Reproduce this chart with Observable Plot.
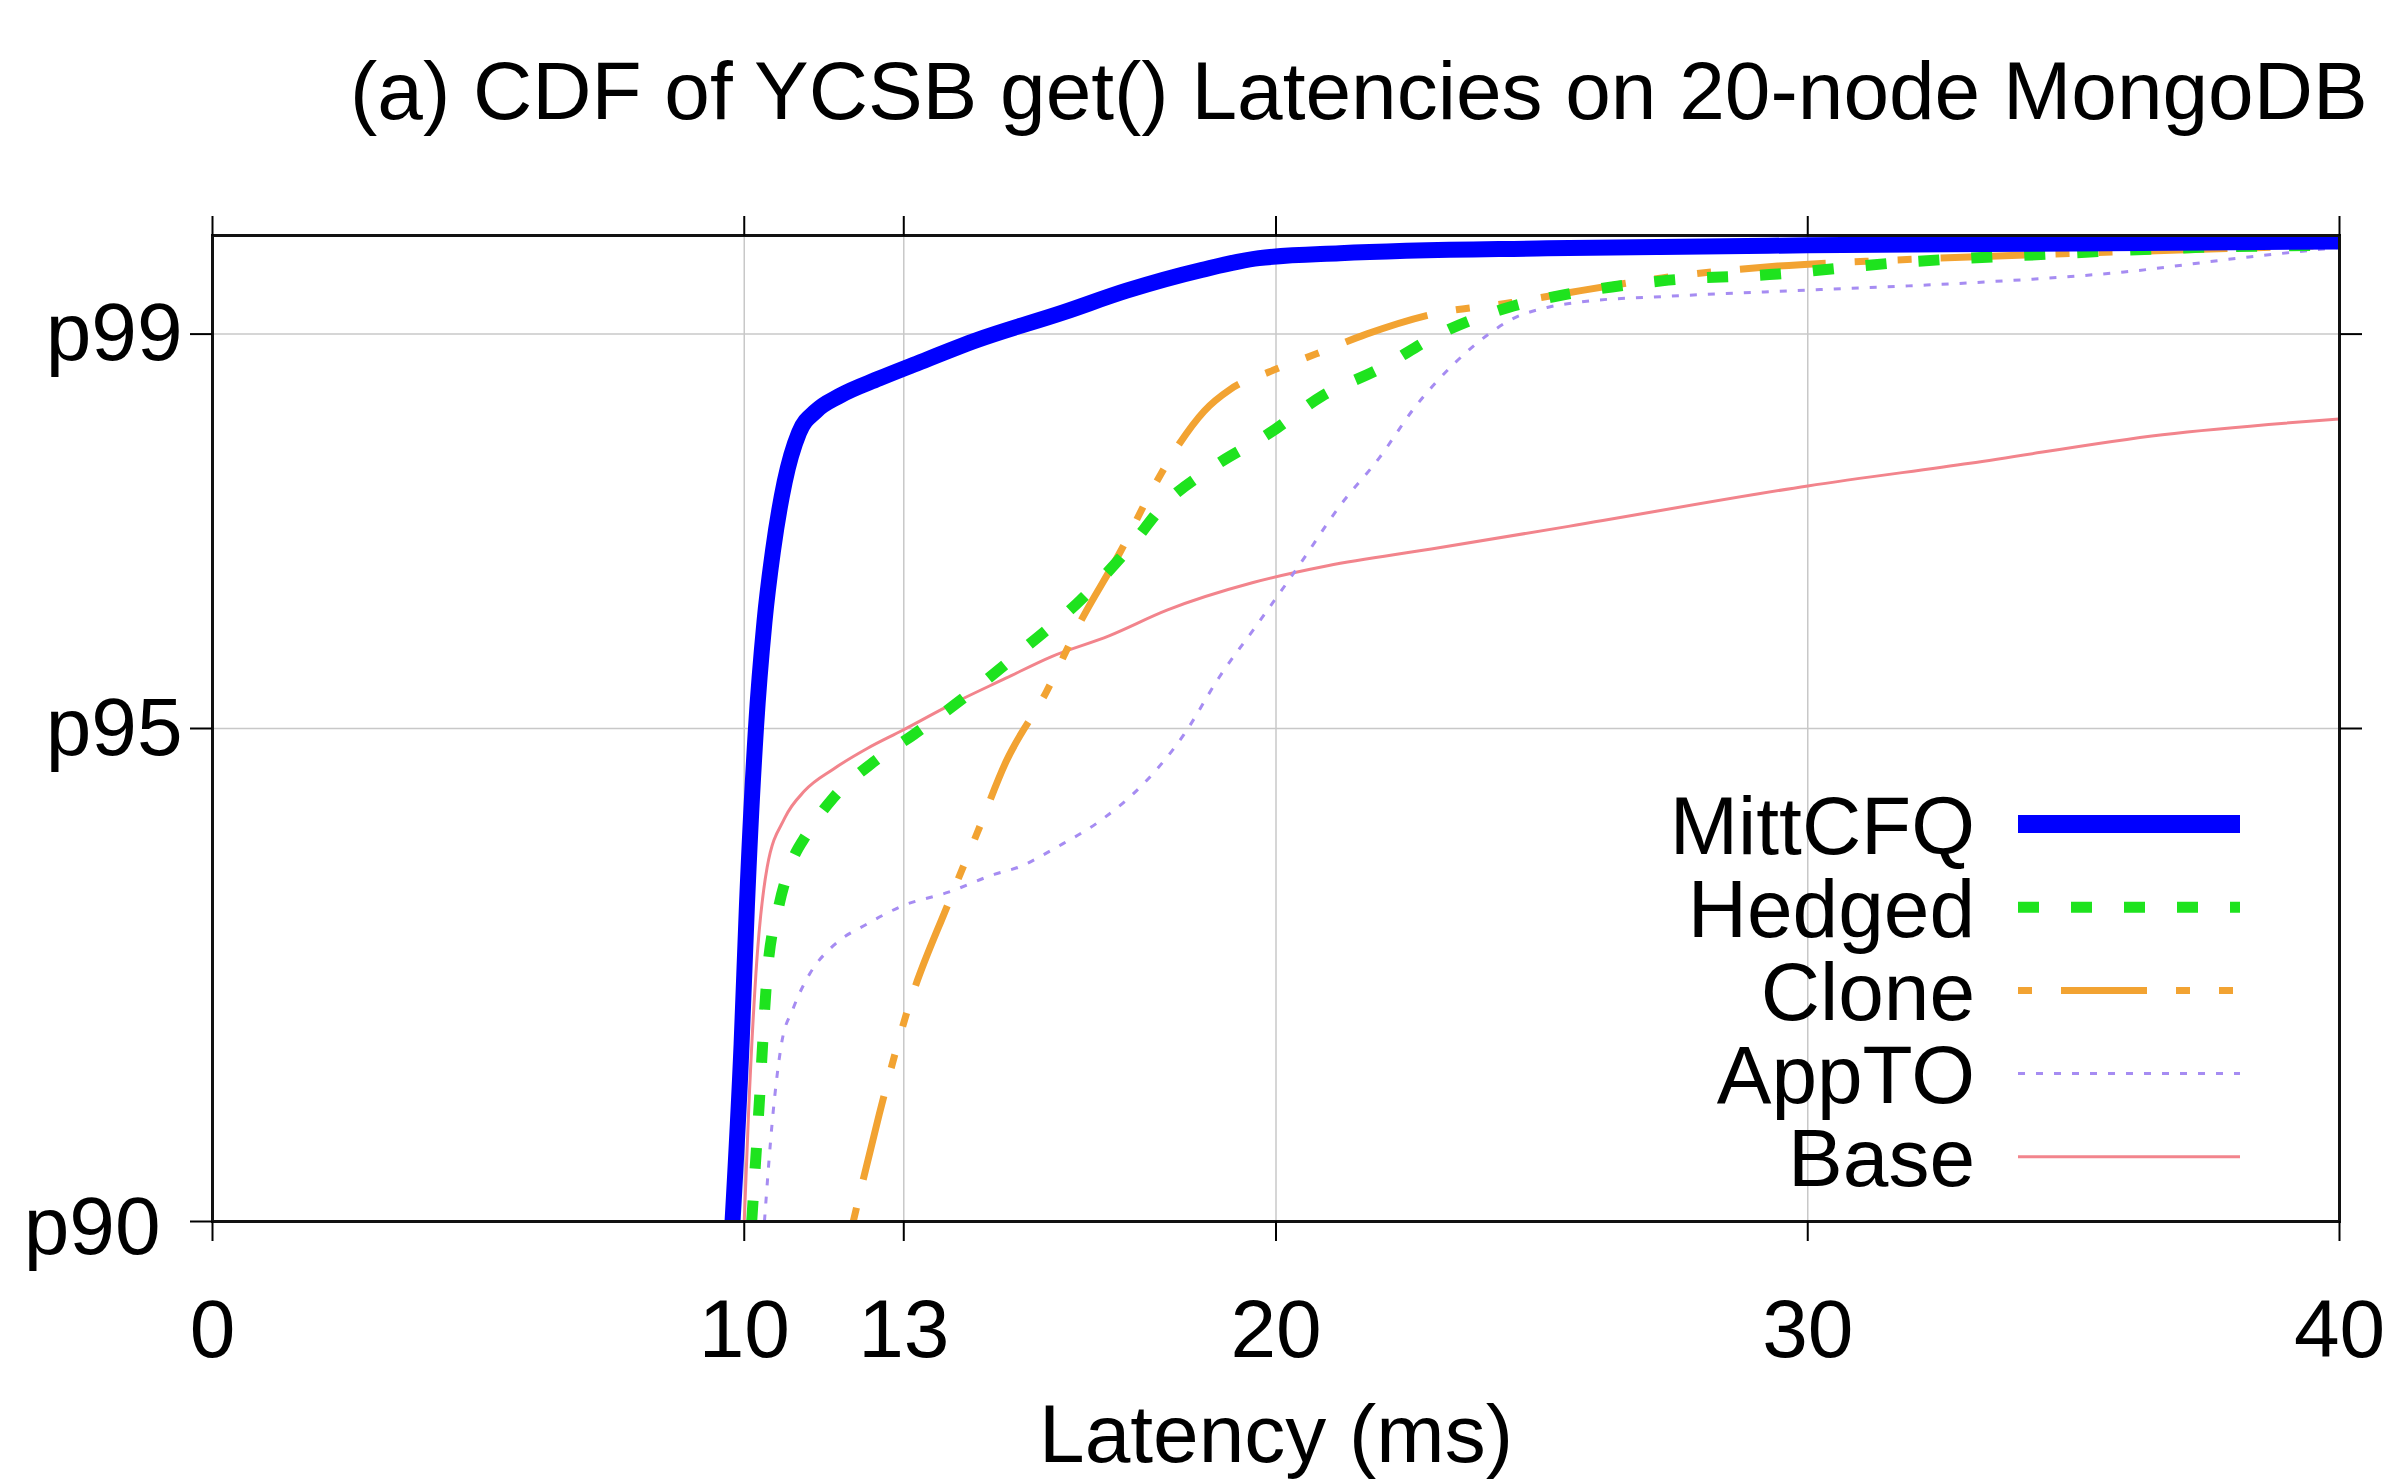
<!DOCTYPE html>
<html>
<head>
<meta charset="utf-8">
<script src="https://cdn.jsdelivr.net/npm/d3@7"></script>
<script src="https://cdn.jsdelivr.net/npm/@observablehq/plot@0.6"></script>
<style>
  html, body { margin: 0; padding: 0; background: #fff; }
  #wrap { position: relative; width: 2405px; height: 1484px; overflow: hidden; font-family: "Liberation Sans", Arial, Helvetica, sans-serif; }
  #title { position: absolute; left: 350px; top: 50px; font-size: 82px; line-height: 82px; white-space: nowrap; color: #000; }
  #chart { position: absolute; left: 0; top: 0; }
  #legend { position: absolute; left: 0; top: 0; pointer-events: none; }
</style>
</head>
<body>
<div id="wrap">
  <div id="chart"></div>
  <div id="title"></div>
  <svg id="legend" width="2405" height="1484"></svg>
</div>
<script>
// ---------------- data ----------------
const titleText = "(a) CDF of YCSB get() Latencies on 20-node MongoDB";
const xLabel = "Latency (ms)";
const xTicks = [0, 10, 13, 20, 30, 40];
const yTicks = [90, 95, 99];
const yTickLabels = ["p90", "p95", "p99"];

const seriesNames = ["MittCFQ", "Hedged", "Clone", "AppTO", "Base"];

const mittcfqLat = [9.78, 9.95, 10.05, 10.22, 10.38, 10.54, 10.76, 11.03, 11.35, 11.78, 12.54, 13.19, 14.38, 16.0, 17.19, 18.6, 19.68, 21.2, 25.1, 30, 35, 40];
const mittcfqPct = [90, 91.8, 93.2, 95.0, 96.08, 96.8, 97.5, 98.0, 98.22, 98.37, 98.55, 98.69, 98.94, 99.22, 99.44, 99.65, 99.77, 99.82, 99.87, 99.9, 99.92, 99.94];

const hedgedLat = [10.14, 10.27, 10.43, 10.65, 10.86, 11.19, 11.68, 12.43, 13.19, 14.27, 15.24, 16.32, 17.19, 17.95, 18.81, 19.89, 20.86, 21.95, 23.07, 24.37, 25.53, 27.26, 29.44, 31.6, 34.5, 37.4, 40];
const hedgedPct = [90, 91.09, 92.5, 93.2, 93.6, 93.94, 94.3, 94.66, 94.94, 95.37, 95.8, 96.3, 96.8, 97.3, 97.65, 98.0, 98.37, 98.65, 99.0, 99.27, 99.41, 99.54, 99.61, 99.72, 99.81, 99.88, 99.9];

const cloneLat = [12.05, 12.54, 13.08, 13.84, 14.38, 14.92, 15.68, 16.32, 17.08, 17.62, 18.16, 18.65, 19.14, 19.89, 20.76, 21.7, 22.92, 24.43, 25.5, 27.26, 29.44, 31.6, 34.5, 37.4, 40];
const clonePct = [90, 91.09, 92.16, 93.23, 93.94, 94.66, 95.37, 96.08, 96.8, 97.37, 97.87, 98.22, 98.44, 98.62, 98.8, 99.0, 99.2, 99.32, 99.42, 99.57, 99.69, 99.75, 99.81, 99.86, 99.9];

const apptoLat = [10.38, 10.54, 10.7, 10.92, 11.24, 11.68, 12.32, 12.97, 13.84, 14.7, 15.14, 15.89, 16.76, 17.51, 18.27, 18.92, 19.68, 20.43, 21.19, 21.95, 22.6, 23.35, 24.0, 24.43, 25.1, 25.8, 27.26, 30.16, 33.05, 35.95, 38.1, 40];
const apptoPct = [90, 91.09, 91.8, 92.16, 92.52, 92.8, 93.02, 93.2, 93.34, 93.52, 93.59, 93.8, 94.09, 94.44, 94.94, 95.51, 96.08, 96.65, 97.25, 97.75, 98.25, 98.7, 99.0, 99.15, 99.27, 99.33, 99.38, 99.45, 99.52, 99.63, 99.77, 99.88];

const baseLat = [10.0, 10.08, 10.22, 10.43, 10.76, 11.14, 11.68, 12.32, 12.97, 13.84, 14.92, 15.78, 16.86, 17.95, 19.57, 20.97, 22.92, 25.5, 30, 33.05, 36.67, 40];
const basePct = [90, 91.09, 92.52, 93.59, 94.09, 94.37, 94.59, 94.8, 94.98, 95.23, 95.51, 95.73, 95.94, 96.2, 96.48, 96.65, 96.82, 97.05, 97.46, 97.69, 97.98, 98.14];

// ---------------- styles ----------------
const seriesColors = ["#0000ff", "#1ee31e", "#f2a332", "#a68cf2", "#f2848c"];
const seriesWidths = [16, 11, 7, 3, 3];
const seriesDashes = [null, "21,32", "14,29,86,29,14,29", "7,11", null];

const lats = [mittcfqLat, hedgedLat, cloneLat, apptoLat, baseLat];
const pcts = [mittcfqPct, hedgedPct, clonePct, apptoPct, basePct];

const rows = [];
seriesNames.forEach((name, i) => {
  lats[i].forEach((x, j) => rows.push({series: name, lat: x, pct: pcts[i][j]}));
});

const font = "'Liberation Sans', Arial, Helvetica, sans-serif";
const drawOrder = [4, 3, 2, 1, 0];

const lineMarks = drawOrder.map(i => Plot.line(rows.filter(d => d.series === seriesNames[i]), {
  x: "lat", y: "pct",
  stroke: seriesColors[i],
  strokeWidth: seriesWidths[i],
  strokeDasharray: seriesDashes[i] || undefined,
  strokeLinecap: "butt",
  strokeLinejoin: "round",
  curve: "monotone-x",
  clip: true
}));

const chart = Plot.plot({
  width: 2405,
  height: 1484,
  marginLeft: 212,
  marginRight: 66,
  marginTop: 235,
  marginBottom: 263,
  style: {fontFamily: font, fontSize: "82px", color: "#000", background: "transparent"},
  x: {domain: [0, 40]},
  y: {domain: [90, 100]},
  marks: [
    Plot.gridX(xTicks.filter(t => t > 0 && t < 40), {stroke: "#c8c8c8", strokeOpacity: 1, strokeWidth: 1.5}),
    Plot.gridY(yTicks.filter(t => t > 90), {stroke: "#c8c8c8", strokeOpacity: 1, strokeWidth: 1.5}),
    ...lineMarks,
    Plot.frame({stroke: "#111", strokeWidth: 3}),
    Plot.axisX(xTicks, {anchor: "bottom", tickSize: 20, tickPadding: 57, strokeWidth: 2, label: null, fontSize: 82}),
    Plot.axisX(xTicks, {anchor: "top", tickSize: 20, strokeWidth: 2, tickFormat: () => "", label: null}),
    Plot.axisY(yTicks, {anchor: "left", tickSize: 22, tickPadding: 8, strokeWidth: 2, label: null, fontSize: 82,
      tickFormat: d => yTickLabels[yTicks.indexOf(d)]}),
    Plot.axisY(yTicks.filter(t => t > 90), {anchor: "right", tickSize: 22, strokeWidth: 2, tickFormat: () => "", label: null}),
    Plot.text([xLabel], {frameAnchor: "bottom", dy: 240, fontSize: 82, fill: "#000"})
  ]
});
document.getElementById("chart").appendChild(chart);

// nudge the p90 label like the reference
d3.select(chart).selectAll("text").each(function() {
  if (this.textContent === "p90") {
    const t = this.getAttribute("transform") || "";
    this.setAttribute("transform", t + " translate(-22,6)");
  }
});

document.getElementById("title").textContent = titleText;

// ---------------- legend ----------------
const leg = d3.select("#legend");
const legTextRight = 1975, legLineX0 = 2018, legLineX1 = 2240, legY0 = 824, legStep = 83.2;
seriesNames.forEach((name, i) => {
  const y = legY0 + i * legStep;
  leg.append("text")
    .attr("x", legTextRight).attr("y", y).attr("dy", "0.36em")
    .attr("text-anchor", "end")
    .style("font-family", font).style("font-size", "82px").attr("fill", "#000")
    .text(name);
  const ln = leg.append("line")
    .attr("x1", legLineX0).attr("x2", legLineX1).attr("y1", y).attr("y2", y)
    .attr("stroke", seriesColors[i])
    .attr("stroke-width", i === 0 ? 18 : seriesWidths[i]);
  if (seriesDashes[i]) ln.attr("stroke-dasharray", seriesDashes[i]);
});
</script>
</body>
</html>
